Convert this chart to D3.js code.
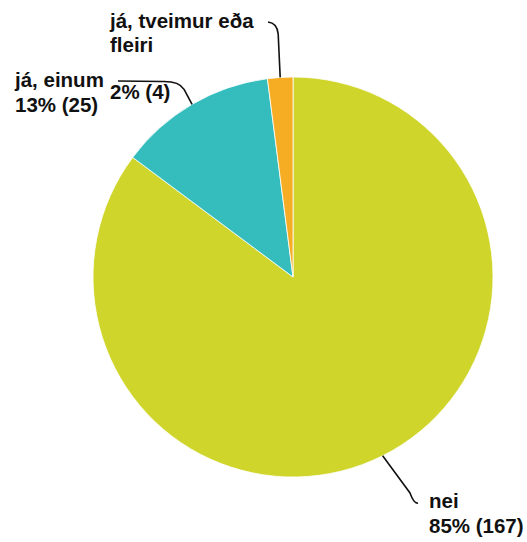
<!DOCTYPE html>
<html>
<head>
<meta charset="utf-8" />
<title>pie</title>
<script src="https://cdn.jsdelivr.net/npm/d3@7"></script>
<style>
body{margin:0;background:#fff;}
text{font-family:"Liberation Sans",Arial,sans-serif;font-weight:bold;font-size:20.5px;fill:#111;}
</style>
</head>
<body>
<div id="chart"></div>
<script>
var w=527,h=542;
var cx=293,cy=277,radius=200;

// data
var categories=['nei','já, einum','já, tveimur eða fleiri'];
var counts=[167,25,4];
var percents=['85%','13%','2%'];
var colors=['#cfd52a','#35bdbe','#f6ac23'];

// label layout (name lines, value line, anchor of leader line end)
var labelPos=[
  {name:[[429,508]],value:[429,533],end:[418,503],bend:'down'},
  {name:[[15,87]],value:[15,112],end:[118,81],bend:'side'},
  {name:[[110,28],[110,52]],value:[110,99],end:[268,22],bend:'up'}
];
var nameLines=[['nei'],['já, einum'],['já, tveimur eða','fleiri']];

var svg=d3.select('#chart')
  .append('svg')
  .attr('width',w)
  .attr('height',h);

var pie=d3.pie().sort(null).value(function(d){return d;});
var arcs=pie(counts);

var arc=d3.arc().innerRadius(0).outerRadius(radius);
var edge=d3.arc().innerRadius(radius).outerRadius(radius);

var g=svg.append('g').attr('transform','translate('+cx+','+cy+')');

g.selectAll('path.slice')
  .data(arcs)
  .enter()
  .append('path')
  .attr('class','slice')
  .attr('d',arc)
  .attr('fill',function(d,i){return colors[i];})
  .attr('stroke','#fff')
  .attr('stroke-width',0.8);

// leader lines
svg.selectAll('path.leader')
  .data(arcs)
  .enter()
  .append('path')
  .attr('class','leader')
  .attr('fill','none')
  .attr('stroke','#111')
  .attr('stroke-width',1.6)
  .attr('d',function(d,i){
    var c=edge.centroid(d);
    var x0=cx+c[0],y0=cy+c[1];
    var p=labelPos[i];
    var x1=p.end[0],y1=p.end[1];
    if(p.bend=='down'){
      return 'M'+x0+','+y0+' L'+(x1-8)+','+(y1-10)+' Q'+(x1-4)+','+(y1+1)+' '+x1+','+y1;
    }else if(p.bend=='side'){
      return 'M'+x0+','+y0+' L'+(x0-8)+','+(y0-15)+' Q'+(x0-13)+','+(y1)+' '+(x0-30)+','+(y1+0.5)+' L'+x1+','+y1;
    }else{
      return 'M'+x0+','+y0+' L'+(x0-2)+','+(y1+12)+' Q'+(x0-3)+','+(y1+1)+' '+x1+','+y1;
    }
  });

// labels
arcs.forEach(function(d,i){
  var p=labelPos[i];
  nameLines[i].forEach(function(t,j){
    svg.append('text')
      .attr('x',p.name[j][0])
      .attr('y',p.name[j][1])
      .text(t);
  });
  svg.append('text')
    .attr('x',p.value[0])
    .attr('y',p.value[1])
    .text(percents[i]+' ('+counts[i]+')');
});
</script>
</body>
</html>
